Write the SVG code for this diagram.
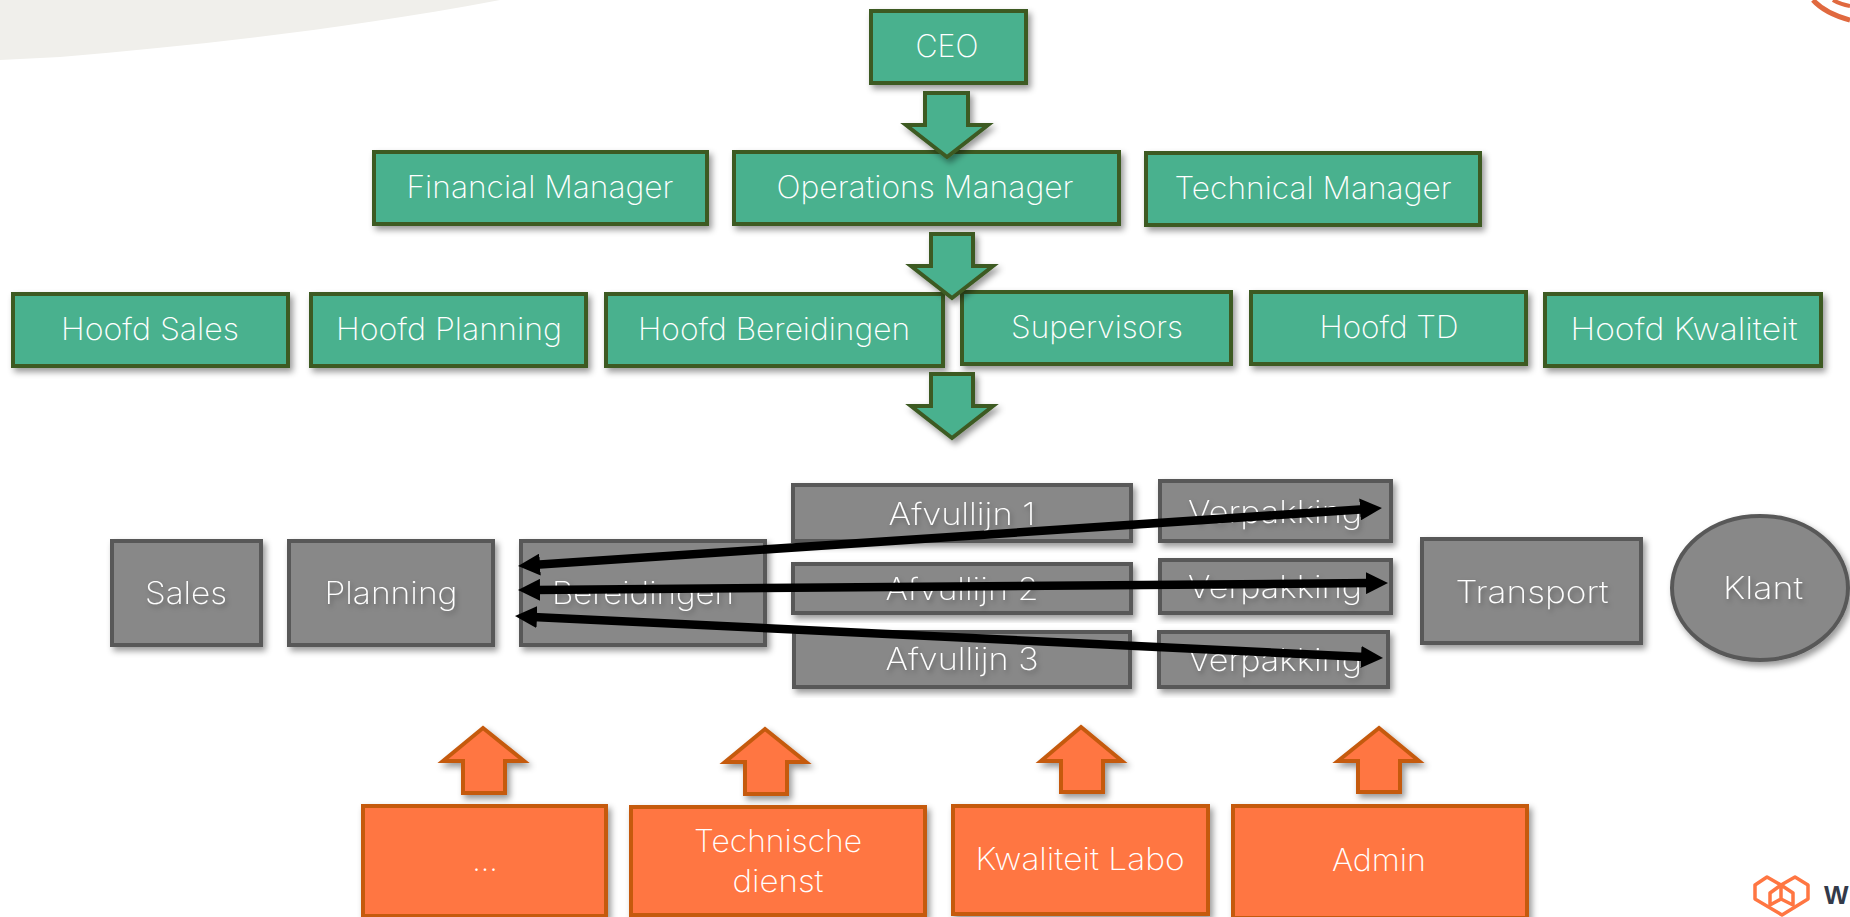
<svg xmlns="http://www.w3.org/2000/svg" width="1850" height="917" viewBox="0 0 1850 917">
<defs>
<filter id="sh" x="-10%" y="-10%" width="125%" height="130%"><feDropShadow dx="3" dy="4" stdDeviation="3" flood-color="#000" flood-opacity="0.4"/></filter>
<filter id="ts" x="-10%" y="-20%" width="125%" height="150%"><feDropShadow dx="2" dy="3" stdDeviation="2.5" flood-color="#000" flood-opacity="0.3"/></filter>
<marker id="ah" viewBox="0 0 22 22" refX="4" refY="11" markerWidth="22" markerHeight="22" markerUnits="userSpaceOnUse" orient="auto-start-reverse"><path d="M0 0L22 11L0 22Z" fill="#000"/></marker>
</defs>
<style>
text{font-family:"Inter","Liberation Sans",sans-serif;font-weight:200;font-size:31px;fill:#fff;text-anchor:middle}
.g rect,.g path{fill:#4ab18e;stroke:#3c5a24;stroke-width:4;filter:url(#sh)}
.k rect,.k ellipse{fill:#888;stroke:#595959;stroke-width:4;filter:url(#sh)}
.k text{filter:url(#ts)}
.o rect,.o path{fill:#ff7642;stroke:#c55a11;stroke-width:4;filter:url(#sh)}
.c line{stroke:#000;stroke-width:8.5;marker-start:url(#ah);marker-end:url(#ah)}
.logo{fill:none;stroke:#ff7642;stroke-width:3.5;stroke-linejoin:round}
.brand{font-family:"Liberation Sans",sans-serif;font-weight:700;font-size:26px;fill:#333a4a;text-anchor:start}
</style>
<path d="M0 0H500C340 30 200 45 60 57L0 60Z" fill="#f0efeb"/>
<g fill="none" stroke="#e0693f"><path d="M1813 0C1822 10 1835 16 1850 20" stroke-width="5"/><path d="M1833 0C1838 3 1844 5 1850 6" stroke-width="4"/></g>
<g id="logo"><path class="logo" d="M1767 877L1755 885V899L1782 915L1808 899V885L1795 877L1781 885Z"/><path class="logo" d="M1781 885L1770 893V905L1781 899L1793 905V893L1781 885V899"/></g>
<text class="brand" x="1824" y="904">W</text>

<g class="g" id="ceo"><rect x="871" y="11" width="155" height="72"/><text x="947" y="57" textLength="63" lengthAdjust="spacingAndGlyphs">CEO</text></g>
<g class="g" id="financial"><rect x="374" y="152" width="333" height="72"/><text x="540" y="198" textLength="267" lengthAdjust="spacingAndGlyphs">Financial Manager</text></g>
<g class="g" id="operations"><rect x="734" y="152" width="385" height="72"/><text x="925" y="198" textLength="297" lengthAdjust="spacingAndGlyphs">Operations Manager</text></g>
<g class="g" id="technical"><rect x="1146" y="153" width="334" height="72"/><text x="1313" y="199" textLength="277" lengthAdjust="spacingAndGlyphs">Technical Manager</text></g>
<g class="g" id="hoofd-sales"><rect x="13" y="294" width="275" height="72"/><text x="150" y="340" textLength="178" lengthAdjust="spacingAndGlyphs">Hoofd Sales</text></g>
<g class="g" id="hoofd-planning"><rect x="311" y="294" width="275" height="72"/><text x="449" y="340" textLength="226" lengthAdjust="spacingAndGlyphs">Hoofd Planning</text></g>
<g class="g" id="hoofd-bereidingen"><rect x="606" y="294" width="337" height="72"/><text x="774" y="340" textLength="272" lengthAdjust="spacingAndGlyphs">Hoofd Bereidingen</text></g>
<g class="g" id="supervisors"><rect x="962" y="292" width="269" height="72"/><text x="1097" y="338" textLength="172" lengthAdjust="spacingAndGlyphs">Supervisors</text></g>
<g class="g" id="hoofd-td"><rect x="1251" y="292" width="275" height="72"/><text x="1389" y="338" textLength="139" lengthAdjust="spacingAndGlyphs">Hoofd TD</text></g>
<g class="g" id="hoofd-kwaliteit"><rect x="1545" y="294" width="276" height="72"/><text x="1684" y="340" textLength="227" lengthAdjust="spacingAndGlyphs">Hoofd Kwaliteit</text></g>
<g class="g" id="arrow-1"><path d="M925 93H968V125H988L947 157L906 125H925Z"/></g>
<g class="g" id="arrow-2"><path d="M931 234H973V266H993L952 298L911 266H931Z"/></g>
<g class="g" id="arrow-3"><path d="M931 374H973V406H993L952 438L911 406H931Z"/></g>

<g class="k" id="sales"><rect x="112" y="541" width="149" height="104"/><text x="186" y="604" textLength="82" lengthAdjust="spacingAndGlyphs">Sales</text></g>
<g class="k" id="planning"><rect x="289" y="541" width="204" height="104"/><text x="391" y="604" textLength="133" lengthAdjust="spacingAndGlyphs">Planning</text></g>
<g class="k" id="bereidingen"><rect x="521" y="541" width="244" height="104"/><text x="643" y="604" textLength="182" lengthAdjust="spacingAndGlyphs">Bereidingen</text></g>
<g class="k" id="afvullijn-1"><rect x="793" y="485" width="338" height="56"/><text x="962" y="525" textLength="147" lengthAdjust="spacingAndGlyphs">Afvullijn 1</text></g>
<g class="k" id="afvullijn-2"><rect x="793" y="564" width="338" height="49"/><text x="962" y="600" textLength="153" lengthAdjust="spacingAndGlyphs">Afvullijn 2</text></g>
<g class="k" id="afvullijn-3"><rect x="794" y="632" width="336" height="55"/><text x="962" y="670" textLength="153" lengthAdjust="spacingAndGlyphs">Afvullijn 3</text></g>
<g class="k" id="verpakking-1"><rect x="1160" y="481" width="231" height="60"/><text x="1275" y="523" textLength="174" lengthAdjust="spacingAndGlyphs">Verpakking</text></g>
<g class="k" id="verpakking-2"><rect x="1160" y="560" width="231" height="53"/><text x="1275" y="598" textLength="174" lengthAdjust="spacingAndGlyphs">Verpakking</text></g>
<g class="k" id="verpakking-3"><rect x="1159" y="632" width="229" height="55"/><text x="1275" y="671" textLength="174" lengthAdjust="spacingAndGlyphs">Verpakking</text></g>
<g class="k" id="transport"><rect x="1422" y="539" width="219" height="104"/><text x="1532" y="603" textLength="153" lengthAdjust="spacingAndGlyphs">Transport</text></g>
<g class="k" id="klant"><ellipse cx="1760" cy="588" rx="88" ry="72"/><text x="1763" y="599" textLength="80" lengthAdjust="spacingAndGlyphs">Klant</text></g>

<g class="c" id="connectors">
<line x1="536" y1="564.8" x2="1364" y2="509.2"/>
<line x1="536" y1="589.9" x2="1370" y2="583.1"/>
<line x1="533" y1="616.9" x2="1365" y2="657.1"/>
</g>

<g class="o" id="up-1"><path d="M483 728L524 761H505V793H463V761H443Z"/></g>
<g class="o" id="up-2"><path d="M765 729L806 762H787V794H745V762H725Z"/></g>
<g class="o" id="up-3"><path d="M1081 727L1122 761H1103V792H1061V761H1041Z"/></g>
<g class="o" id="up-4"><path d="M1379 728L1419 761H1400V792H1358V761H1338Z"/></g>
<g class="o" id="ellipsis"><rect x="363" y="806" width="243" height="110"/><text x="485" y="871">...</text></g>
<g class="o" id="technische"><rect x="631" y="807" width="294" height="108"/><text x="778" y="852" textLength="168" lengthAdjust="spacingAndGlyphs">Technische</text><text x="778" y="892" textLength="91" lengthAdjust="spacingAndGlyphs">dienst</text></g>
<g class="o" id="kwaliteit-labo"><rect x="953" y="806" width="255" height="108"/><text x="1080" y="870" textLength="209" lengthAdjust="spacingAndGlyphs">Kwaliteit Labo</text></g>
<g class="o" id="admin"><rect x="1233" y="806" width="294" height="112"/><text x="1379" y="871" textLength="94" lengthAdjust="spacingAndGlyphs">Admin</text></g>
</svg>
